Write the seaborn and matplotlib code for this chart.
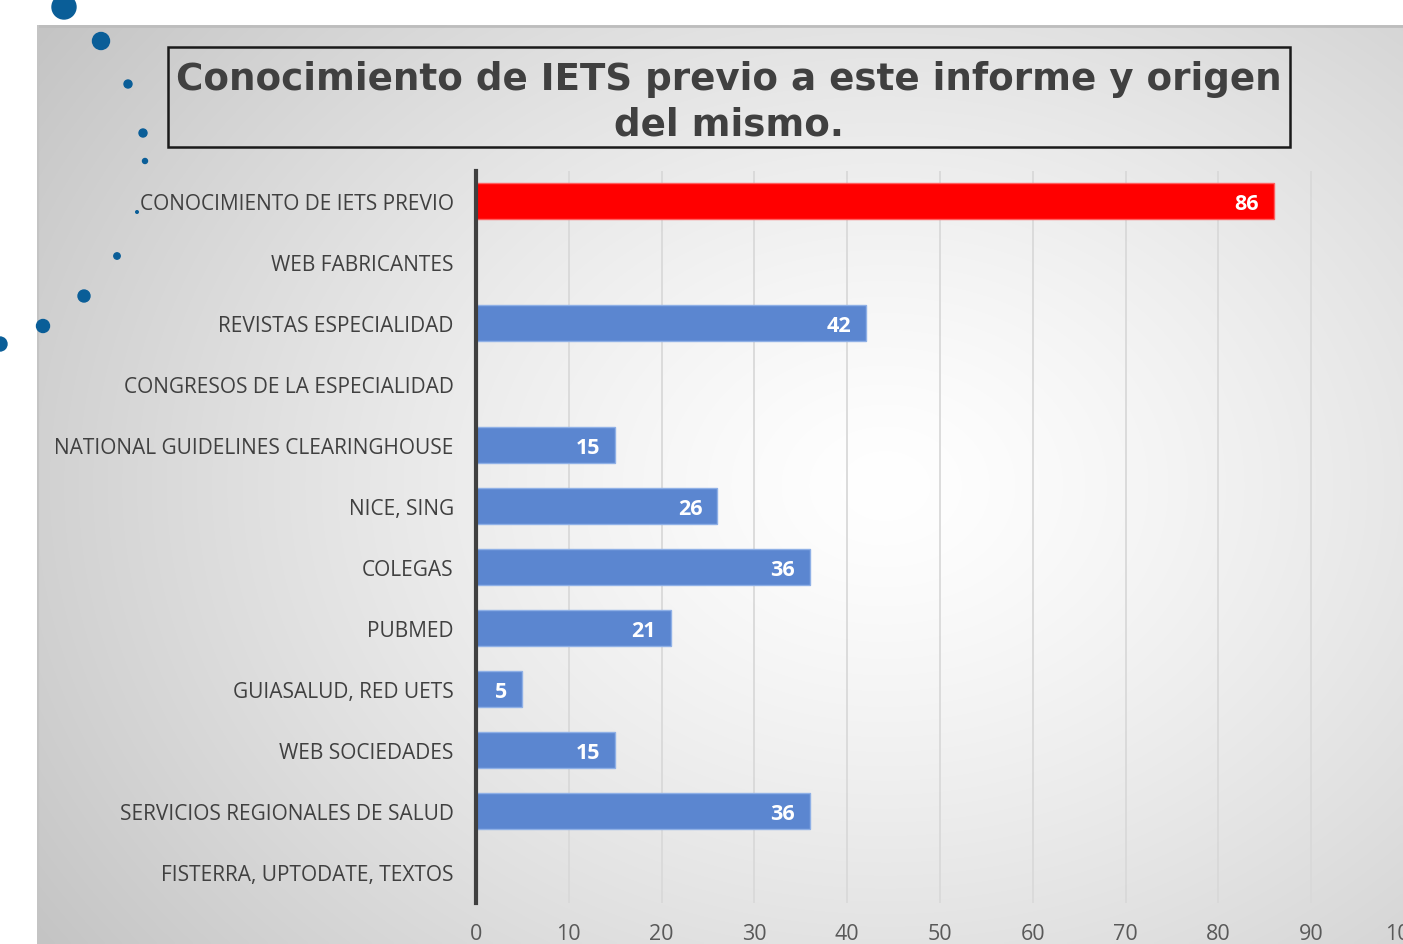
import numpy as np
import pandas as pd
import matplotlib
matplotlib.use("Agg")
import matplotlib.pyplot as plt
from matplotlib.patches import Rectangle, Circle
import seaborn as sns

categories = [
    "CONOCIMIENTO DE IETS PREVIO",
    "WEB FABRICANTES",
    "REVISTAS ESPECIALIDAD",
    "CONGRESOS DE LA ESPECIALIDAD",
    "NATIONAL GUIDELINES CLEARINGHOUSE",
    "NICE, SING",
    "COLEGAS",
    "PUBMED",
    "GUIASALUD, RED UETS",
    "WEB SOCIEDADES",
    "SERVICIOS REGIONALES DE SALUD",
    "FISTERRA, UPTODATE, TEXTOS",
]
values = [86, 0, 42, 0, 15, 26, 36, 21, 5, 15, 36, 0]
x_ticks = [0, 10, 20, 30, 40, 50, 60, 70, 80, 90, 100]
title = "Conocimiento de IETS previo a este informe y origen\ndel mismo."

RED = "#ff0000"
BLUE = "#5b86d0"
bar_colors = [RED] + [BLUE] * (len(categories) - 1)

sns.set_theme(style="white")
plt.rcParams["font.family"] = ["Open Sans", "DejaVu Sans"]

W, H = 1403, 945
fig = plt.figure(figsize=(W / 100, H / 100), dpi=100)
fig.patch.set_facecolor("white")

# gradient background panel
px0, py0 = 37, 26
bg = fig.add_axes([px0 / W, 0, 1 - px0 / W, (H - py0) / H])
bg.set_axis_off()
gw, gh = 400, 300
yy, xx = np.mgrid[0:gh, 0:gw]
cx, cy = 0.62 * gw, 0.50 * gh
d = np.sqrt(((xx - cx) / (0.62 * gw)) ** 2 + ((yy - cy) / (0.72 * gh)) ** 2)
d = np.clip(d, 0, 1.25) / 1.25
shade = 1.0 - 0.24 * d ** 1.3
img = np.dstack([shade, shade, shade])
bg.imshow(img, aspect="auto", extent=[0, 1, 0, 1], interpolation="bilinear")
bg.set_xlim(0, 1)
bg.set_ylim(0, 1)
bg.plot([0, 1], [0.999, 0.999], color="#bdbdbd", lw=2, transform=bg.transAxes)
bg.plot([0.001, 0.001], [0, 1], color="#c4c4c4", lw=1.5, transform=bg.transAxes)

# main axes
left, right = 476, 1404
top, bottom = 171.5, 903.5
ax = fig.add_axes([left / W, (H - bottom) / H, (right - left) / W, (bottom - top) / H])
ax.patch.set_alpha(0)

df = pd.DataFrame({"cat": categories, "val": values})
sns.barplot(data=df, x="val", y="cat", hue="cat", palette=bar_colors,
            legend=False, orient="h", width=0.58, ax=ax, saturation=1,
            edgecolor="none", zorder=3)
for p, c in zip(ax.patches, bar_colors):
    p.set_edgecolor("#8fb0e6" if c == BLUE else "#ff6060")
    p.set_linewidth(1.0)

ax.set_xlim(0, 100)
ax.set_xticks(x_ticks)
ax.set_xticklabels([str(t) for t in x_ticks])
ax.set_xlabel("")
ax.set_ylabel("")
ax.grid(axis="x", color="#d9d9d9", lw=1.3, zorder=0)
ax.set_axisbelow(True)
for s in ["top", "right", "bottom"]:
    ax.spines[s].set_visible(False)
ax.spines["left"].set_color("#404040")
ax.spines["left"].set_linewidth(3)
ax.spines["left"].set_zorder(5)
ax.tick_params(axis="x", length=0, pad=15, labelsize=15.5, labelcolor="#595959")
ax.tick_params(axis="y", length=0, pad=16, labelsize=15, labelcolor="#404040")

for i, v in enumerate(values):
    if v > 0:
        ax.annotate(str(v), xy=(v, i), xytext=(-15, 0), textcoords="offset pixels",
                    ha="right", va="center_baseline", color="white", fontsize=15.5,
                    fontweight="bold", zorder=6)

# title box
fig.patches.append(Rectangle((168 / W, 1 - 148 / H), (1290 - 168) / W, (148 - 48) / H,
                             transform=fig.transFigure, fill=False, ec="#1a1a1a", lw=1.8))
fig.text(729 / W, 1 - 102 / H, title, ha="center", va="center", fontsize=26.8,
         fontweight="bold", color="#404040", family=["DejaVu Sans"], linespacing=1.28)

# decorative dots
dots = [(64, 8, 12), (101, 42, 8.5), (128, 85, 4), (143, 134, 4), (145, 162, 2.5),
        (137, 213, 1.3), (117, 257, 3.2), (84, 297, 6), (43, 327, 6.5), (0, 345, 7)]
for x, y, r in dots:
    fig.patches.append(Circle((x, H - y), r, transform=None, color="#0a5e98", zorder=10))

fig.savefig("out.png", dpi=100)
